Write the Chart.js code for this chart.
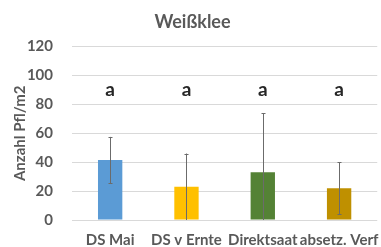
<!DOCTYPE html>
<html>
<head>
<meta charset="utf-8">
<script src="https://cdn.jsdelivr.net/npm/chart.js@4/dist/chart.umd.min.js"></script>
<style>
html,body{margin:0;padding:0;background:#fff;overflow:hidden;width:381px;height:247px;}
#wrap{position:absolute;left:0;top:0;width:390px;height:252px;}
</style>
</head>
<body>
<div id="wrap"><canvas id="c" width="390" height="252"></canvas></div>
<script>
const categories = ['DS Mai', 'DS v Ernte', 'Direktsaat', 'absetz. Verf'];
const means = [41.5, 23, 33, 22];
const errors = [16, 23, 41, 18];
const letters = ['a', 'a', 'a', 'a'];
const letterLevel = 90;
const barColors = ['#5B9BD5', '#FFC000', '#548235', '#BF9000'];
const yTicks = [0, 20, 40, 60, 80, 100, 120];

const FONT = 'Lato, "Open Sans", sans-serif';
const GRAY = '#595959';

const overlay = {
  id: 'overlay',
  afterDatasetsDraw(chart) {
    const ctx = chart.ctx;
    const x = chart.scales.x, y = chart.scales.y;
    const area = chart.chartArea;
    ctx.save();
    ctx.beginPath();
    ctx.rect(area.left, area.top, area.right - area.left, area.bottom - area.top);
    ctx.clip();
    ctx.strokeStyle = '#6b6b6b';
    ctx.lineWidth = 1;
    means.forEach((m, i) => {
      const cx = Math.round(x.getPixelForValue(i)) + 0.5;
      const yt = y.getPixelForValue(m + errors[i]);
      const yb = y.getPixelForValue(m - errors[i]);
      ctx.beginPath();
      ctx.moveTo(cx, yt); ctx.lineTo(cx, yb);
      ctx.moveTo(cx - 2, Math.round(yt) + 0.5); ctx.lineTo(cx + 2, Math.round(yt) + 0.5);
      ctx.moveTo(cx - 2, Math.round(yb) + 0.5); ctx.lineTo(cx + 2, Math.round(yb) + 0.5);
      ctx.stroke();
    });
    ctx.restore();
    ctx.save();
    ctx.fillStyle = '#262626';
    ctx.font = 'bold 19px ' + FONT;
    ctx.textAlign = 'center';
    ctx.textBaseline = 'middle';
    letters.forEach((l, i) => {
      ctx.fillText(l, x.getPixelForValue(i), y.getPixelForValue(letterLevel));
    });
    ctx.restore();
  }
};

new Chart(document.getElementById('c'), {
  type: 'bar',
  data: {
    labels: categories,
    datasets: [{
      data: means,
      backgroundColor: barColors,
      borderWidth: 0,
      barPercentage: 0.55,
      categoryPercentage: 0.58
    }]
  },
  options: {
    responsive: false,
    animation: false,
    layout: { padding: { left: 0, right: 5, top: 0, bottom: 0 } },
    plugins: {
      legend: { display: false },
      tooltip: { enabled: false },
      title: {
        display: true,
        text: 'Weißklee',
        color: GRAY,
        font: { family: FONT, size: 18, weight: 'bold' },
        padding: { top: 11, bottom: 14 }
      }
    },
    scales: {
      x: {
        grid: { display: false, drawTicks: false },
        border: { display: false },
        afterFit(scale) { scale.height = 32; },
        ticks: {
          color: GRAY,
          font: { family: FONT, size: 15, weight: 'bold' },
          padding: 11,
          maxRotation: 0,
          autoSkip: false
        }
      },
      y: {
        min: 0,
        max: 120,
        afterBuildTicks(scale) { scale.ticks = yTicks.map(v => ({ value: v })); },
        afterFit(scale) { scale.width = 72; },
        grid: { color: '#d9d9d9', drawTicks: false, lineWidth: 1 },
        border: { display: false },
        ticks: {
          color: GRAY,
          font: { family: FONT, size: 15, weight: 'bold' },
          padding: 19
        },
        title: {
          display: true,
          text: 'Anzahl Pfl/m2',
          color: GRAY,
          font: { family: FONT, size: 15, weight: 'bold' },
          padding: { top: 11, bottom: 4 }
        }
      }
    }
  },
  plugins: [overlay]
});
</script>
</body>
</html>
